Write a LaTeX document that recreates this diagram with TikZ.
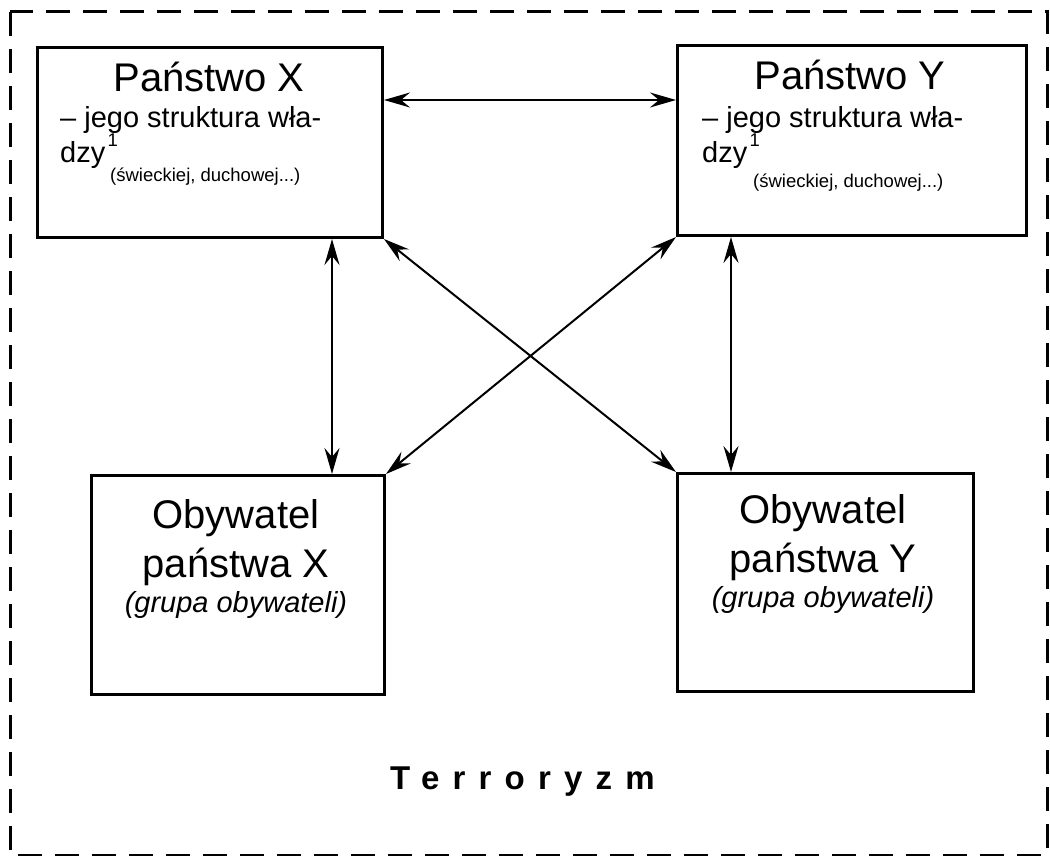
\documentclass[tikz,border=0pt]{standalone}
\usepackage{fontspec}
\setmainfont{Liberation Sans}
\newfontfamily\spacedbold[LetterSpace=40,BoldFont={Liberation Sans Bold}]{Liberation Sans}
\usetikzlibrary{arrows.meta,calc}
\tikzset{
  box/.style={draw, line width=3pt, inner sep=0pt, anchor=north west},
  txt/.style={inner sep=0pt},
  big/.style={txt, font=\fontsize{40}{48}\selectfont},
  mid/.style={txt, font=\fontsize{29}{34}\selectfont},
  small/.style={txt, font=\fontsize{18.5}{22}\selectfont},
  arr/.style={line width=2pt, {Stealth[length=26pt,width=15pt,inset=9pt]}-{Stealth[length=26pt,width=15pt,inset=9pt]}},
  frame/.style={line width=3pt, dash pattern=on 24pt off 13pt}
}
\begin{document}
\begin{tikzpicture}[x=1pt,y=-1pt]
\useasboundingbox (0,0) rectangle (1050,856);
\draw[frame] (10,12) rectangle (1047,855);
% boxes
\node[box, minimum width=345pt, minimum height=190pt] (px) at (36,46) {};
\node[box, minimum width=349pt, minimum height=190pt] (py) at (676,44) {};
\node[box, minimum width=293pt, minimum height=219pt] (ox) at (90,474) {};
\node[box, minimum width=296pt, minimum height=218pt] (oy) at (676,472) {};
% Panstwo X
\node[big, anchor=base] (pxt) at (209,92) {Państwo X};
\node[mid, anchor=base west] (pxl1) at (60,128) {– jego struktura wła-};
\node[mid, anchor=base west] (pxl2) at (60,163) {dzy};
\node[small, anchor=base west] (pxs) at ([xshift=2pt,yshift=16pt]pxl2.base east) {1};
\node[small, anchor=base west] (pxn) at (110,182) {(świeckiej, duchowej...)};
% Panstwo Y
\node[big, anchor=base] (pyt) at (850,90) {Państwo Y};
\node[mid, anchor=base west] (pyl1) at (702,128) {– jego struktura wła-};
\node[mid, anchor=base west] (pyl2) at (702,163) {dzy};
\node[small, anchor=base west] (pys) at ([xshift=2pt,yshift=16pt]pyl2.base east) {1};
\node[small, anchor=base west] (pyn) at (753,188) {(świeckiej, duchowej...)};
% Obywatel X
\node[big, anchor=base] (oxt1) at (236,528) {Obywatel};
\node[big, anchor=base] (oxt2) at (236,577) {państwa X};
\node[mid, anchor=base, font=\fontsize{29}{34}\selectfont\itshape] (oxt3) at (236,612) {(grupa obywateli)};
% Obywatel Y
\node[big, anchor=base] (oyt1) at (823,523) {Obywatel};
\node[big, anchor=base] (oyt2) at (823,572) {państwa Y};
\node[mid, anchor=base, font=\fontsize{29}{34}\selectfont\itshape] (oyt3) at (823,607) {(grupa obywateli)};
% Terroryzm
\node[txt, anchor=base west, font=\spacedbold\bfseries\fontsize{33}{40}\selectfont] (terr) at (390,789) {Terroryzm};
% connectors
\draw[arr] ([yshift=-54pt]px.north east) -- ([yshift=-56pt]py.north west);
\draw[arr] ([xshift=-52pt]px.south east) -- ([xshift=-54pt]ox.north east);
\draw[arr] ([xshift=55pt]py.south west) -- ([xshift=55pt]oy.north west);
\draw[arr] (px.south east) -- (oy.north west);
\draw[arr] (py.south west) -- (ox.north east);
\end{tikzpicture}
\end{document}
